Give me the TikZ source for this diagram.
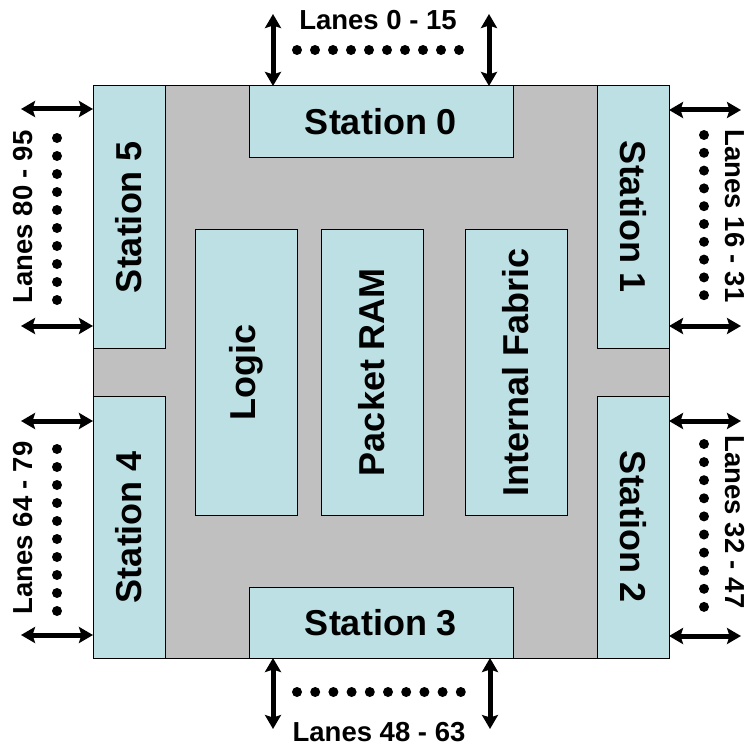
\documentclass[tikz,border=0pt]{standalone}
\usepackage{fontspec}
\setmainfont{Liberation Sans}
\usetikzlibrary{arrows.meta}
\definecolor{boxblue}{RGB}{189,224,228}
\definecolor{coregray}{RGB}{192,192,192}
\begin{document}
\begin{tikzpicture}[x=1pt,y=-1pt,
  box/.style={draw=black, fill=boxblue, line width=1pt, inner sep=0pt, font=\fontsize{36}{40}\selectfont\bfseries},
  lane/.style={line width=5pt, {Stealth[length=14pt,width=16pt,inset=2.5pt]}-{Stealth[length=14pt,width=16pt,inset=2.5pt]}},
  lanelabel/.style={inner sep=0pt, font=\fontsize{27.5}{30}\selectfont\bfseries}]
\useasboundingbox (0,0) rectangle (748,749);
% core
\node[draw=black, fill=coregray, line width=1pt, minimum width=576pt, minimum height=572pt, inner sep=0pt] (core) at (381,372) {};
% stations
\node[box, minimum width=264pt, minimum height=71pt] (s0) at (381,121.5) {Station 0};
\node[box, minimum width=264pt, minimum height=71pt] (s3) at (381,622.5) {Station 3};
\node[box, rotate=90, minimum width=262pt, minimum height=72pt] (s5) at (129,217) {Station 5};
\node[box, rotate=90, minimum width=262pt, minimum height=72pt] (s4) at (129,527) {Station 4};
\node[box, rotate=-90, minimum width=262pt, minimum height=72pt] (s1) at (633,217) {Station 1};
\node[box, rotate=-90, minimum width=262pt, minimum height=72pt] (s2) at (633,527) {Station 2};
% inner blocks
\node[box, rotate=90, minimum width=286pt, minimum height=102pt] (logic) at (246,372) {Logic};
\node[box, rotate=90, minimum width=286pt, minimum height=102pt] (ram) at (372,372) {Packet RAM};
\node[box, rotate=90, minimum width=286pt, minimum height=102pt] (fabric) at (516,372) {Internal Fabric};
% arrow ends
\coordinate (t1a) at (273,14);  \coordinate (t1b) at (273,86);
\coordinate (t2a) at (489,14);  \coordinate (t2b) at (489,86);
\coordinate (b1a) at (273,729); \coordinate (b1b) at (273,658);
\coordinate (b2a) at (490,729); \coordinate (b2b) at (490,658);
\coordinate (l1a) at (21,109);  \coordinate (l1b) at (93,109);
\coordinate (l2a) at (21,326);  \coordinate (l2b) at (93,326);
\coordinate (l3a) at (21,421);  \coordinate (l3b) at (93,421);
\coordinate (l4a) at (21,635);  \coordinate (l4b) at (93,635);
\coordinate (r1a) at (741,110); \coordinate (r1b) at (669,110);
\coordinate (r2a) at (741,326); \coordinate (r2b) at (669,326);
\coordinate (r3a) at (741,421); \coordinate (r3b) at (669,421);
\coordinate (r4a) at (741,636); \coordinate (r4b) at (669,636);
\foreach \p in {t1,t2,b1,b2,l1,l2,l3,l4,r1,r2,r3,r4}
  \draw[lane] (\p a) -- (\p b);
% dots
\foreach \i in {0,...,9} {
  \fill (297+18*\i,50) circle (5pt);
  \fill (297+18.2*\i,692) circle (5pt);
  \fill (57,138+18*\i) circle (5pt);
  \fill (57,449+18*\i) circle (5pt);
  \fill (704,135+17.8*\i) circle (5pt);
  \fill (704,444+18.1*\i) circle (5pt);
}
% labels
\node[lanelabel] (lt) at (378,20) {Lanes 0 - 15};
\node[lanelabel] (lb) at (379,732) {Lanes 48 - 63};
\node[lanelabel, rotate=90] (ll1) at (23,217) {Lanes 80 - 95};
\node[lanelabel, rotate=90] (ll2) at (23,528) {Lanes 64 - 79};
\node[lanelabel, rotate=-90] (lr1) at (735,216) {Lanes 16 - 31};
\node[lanelabel, rotate=-90] (lr2) at (735,522) {Lanes 32 - 47};
\end{tikzpicture}
\end{document}
